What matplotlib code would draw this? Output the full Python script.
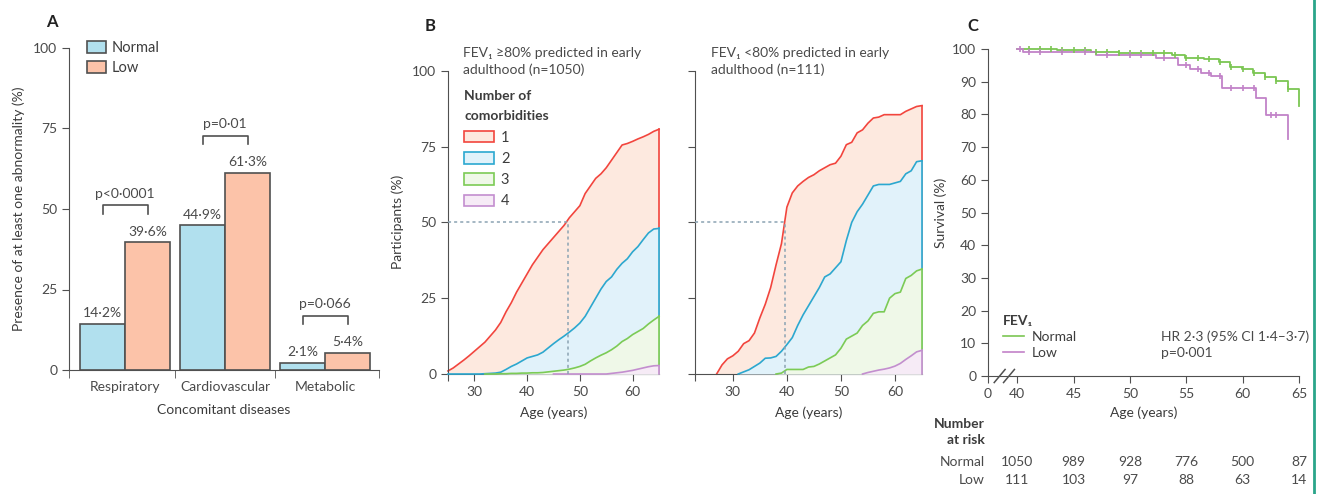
import numpy as np
import matplotlib.pyplot as plt
from matplotlib.patches import Patch
from matplotlib.lines import Line2D
from matplotlib.transforms import blended_transform_factory

plt.rcParams['font.family'] = ['Lato', 'DejaVu Sans']
plt.rcParams['font.size'] = 10
plt.rcParams['text.color'] = '#3c3c3c'
plt.rcParams['axes.edgecolor'] = '#505050'
plt.rcParams['axes.labelcolor'] = '#3c3c3c'
plt.rcParams['xtick.color'] = '#505050'
plt.rcParams['ytick.color'] = '#505050'
plt.rcParams['xtick.labelcolor'] = '#4a4a4a'
plt.rcParams['ytick.labelcolor'] = '#4a4a4a'
plt.rcParams['xtick.major.size'] = 5
plt.rcParams['ytick.major.size'] = 5

# ---- A: concomitant diseases by FEV1 group ----
diseases = ['Respiratory', 'Cardiovascular', 'Metabolic']
normal_pct = [14.2, 44.9, 2.1]
low_pct = [39.6, 61.3, 5.4]
p_text = ['p<0·0001', 'p=0·01', 'p=0·066']

# ---- B: cumulative comorbidities by age ----
ages_b1 = np.arange(25, 66)
b1_one = [1, 2, 3.3, 4.6, 6, 7.5, 9, 10.5, 12.5, 14.5, 17, 20.5, 23.5, 27, 30,
          33, 36, 38.5, 41, 43, 45, 47, 49, 51.5, 53.5, 55.5, 59.5, 62, 64.5, 66,
          68, 70.5, 73, 75.5, 76, 76.7, 77.5, 78.2, 79, 80, 80.7]
b1_two = [0, 0, 0, 0, 0, 0, 0, 0.1, 0.2, 0.3, 0.6, 1.5, 2.5, 3.3, 4.3, 5.3, 5.8,
          6.3, 7.2, 8.6, 10, 11.3, 12.5, 13.8, 15.2, 16.8, 19, 22, 25, 28, 30.5,
          32, 34.5, 36.5, 38, 40.3, 42, 44.3, 46.5, 47.8, 48]
b1_three = [np.nan] * 7 + [0, 0, 0, 0.1, 0.1, 0.2, 0.2, 0.3, 0.3, 0.4, 0.4,
            0.5, 0.7, 0.9, 1.1, 1.3, 1.6, 2.0, 2.5, 3.2, 4.3, 5.3, 6.2, 7.0,
            8.0, 9.2, 10.7, 11.7, 13, 14, 15, 16.5, 17.8, 19]
b1_four = [np.nan] * 20 + [0] * 11 + [0.2, 0.4, 0.6, 0.9, 1.2, 1.6, 2.0, 2.4,
                                      2.7, 2.8]
b1_median = 47.7

ages_b2 = np.arange(27, 66)
b2_one = [0, 3, 5, 6, 7.5, 10, 11, 13.5, 18.5, 23, 28.5, 36, 43, 55, 59.7, 62,
          63.5, 64.8, 65.7, 67, 68, 69, 69.5, 71.8, 75.6, 76.4, 79.5, 80.5,
          82.7, 84.4, 84.7, 85.5, 85.5, 85.5, 85.5, 86.6, 87.4, 88.2, 88.5]
b2_two = [np.nan] * 4 + [0, 0.7, 1.4, 2.5, 3.6, 5.2, 5.3, 5.8, 7.5, 9.7, 12, 16,
                         19.5, 22.5, 25.5, 28.5, 32, 33, 35, 37, 44, 50, 53.5,
                         56, 59, 62, 62.5, 62.5, 62.5, 63, 63.5, 66, 67, 70, 70.3]
b2_three = [np.nan] * 11 + [0, 0.3, 1.5, 1.5, 1.5, 1.5, 2.3, 2.5, 3.3, 4.3, 5.3,
                            6.3, 8.5, 11.5, 12.5, 13.5, 16, 17.5, 20, 20.5, 20.5,
                            25, 26.5, 27, 31.5, 32.5, 34, 34.6]
b2_four = [np.nan] * 27 + [0, 0.5, 0.9, 1.3, 1.6, 2, 2.6, 3.5, 4.8, 6.0, 7.3,
                           7.8]
b2_median = 39.7

n_labels = ['1', '2', '3', '4']
line_cols = ['#f2453d', '#2ba8d0', '#7ccb55', '#c38ecf']
fill_cols = ['#fde9df', '#e1f2fa', '#eff8e8', '#f6ebf6']

# ---- C: survival by FEV1 group ----
normal_t = [40, 43.5, 46.5, 49, 53.7, 54.9, 56.6, 57.9, 58.9, 59.9, 60.9, 62.0,
            63.0, 64.0, 65.0]
normal_s = [100, 99.6, 99.2, 98.9, 98.2, 97.4, 96.9, 95.9, 94.4, 93.8, 92.8,
            91.5, 90.2, 87.7, 82.6]
low_t = [40, 40.5, 47, 52.3, 54.3, 55.3, 56.3, 57.2, 58.2, 61.2, 62.1, 64.0]
low_s = [100, 99.2, 98.1, 97.1, 95.0, 94.0, 92.8, 91.8, 88.0, 85.0, 79.8, 72.5]
normal_cens = list(range(41, 65))
low_cens = [40.2, 41, 42, 44, 46, 48, 50, 51, 53, 55, 56, 57, 58, 59, 60, 61,
            62.5, 63]
risk_ages = [40, 45, 50, 55, 60, 65]
risk_normal = [1050, 989, 928, 776, 500, 87]
risk_low = [111, 103, 97, 88, 63, 14]

c_normal = '#7bc653'
c_low = '#c282c8'
bar_edge = '#505050'

fig = plt.figure(figsize=(13.22, 4.94), dpi=100)
W, H = 1322, 494


def px_axes(x0, x1, y_top, y_bot):
    return fig.add_axes([x0 / W, 1 - y_bot / H, (x1 - x0) / W, (y_bot - y_top) / H])


def clean(ax):
    ax.spines['top'].set_visible(False)
    ax.spines['right'].set_visible(False)


# panel A
axA = px_axes(69, 379, 48, 370)
clean(axA)
x = np.arange(len(diseases))
bw = 0.45
axA.bar(x - bw / 2, normal_pct, bw, color='#b1e0ee', edgecolor=bar_edge, lw=1.2,
        label='Normal')
axA.bar(x + bw / 2, low_pct, bw, color='#fcc3a9', edgecolor=bar_edge, lw=1.2,
        label='Low')
for i in range(len(diseases)):
    axA.text(x[i] - bw / 2, normal_pct[i] + 1.5, f'{normal_pct[i]:.1f}%'.replace('.', '·'),
             ha='center', va='bottom', color='#4a4a4a')
    axA.text(x[i] + bw / 2, low_pct[i] + 1.5, f'{low_pct[i]:.1f}%'.replace('.', '·'),
             ha='center', va='bottom', color='#4a4a4a')
    top = max(normal_pct[i], low_pct[i]) + 11.5
    axA.plot([x[i] - bw / 2, x[i] - bw / 2, x[i] + bw / 2, x[i] + bw / 2],
             [top - 2.6, top, top, top - 2.6], color='#505050', lw=1.2)
    axA.text(x[i], top + 1.6, p_text[i], ha='center', va='bottom', color='#4a4a4a')
axA.set_xlim(-0.56, 2.54)
axA.set_ylim(0, 100)
axA.set_yticks([0, 25, 50, 75, 100])
axA.set_xticks(x)
axA.set_xticklabels(diseases)
axA.tick_params(axis='x', length=0, pad=8)
axA.set_xticks([-0.56, 0.5, 1.5, 2.54], minor=True)
axA.tick_params(axis='x', which='minor', length=6, direction='out')
axA.set_xlabel('Concomitant diseases', labelpad=8)
axA.set_ylabel('Presence of at least one abnormality (%)', labelpad=6)
axA.legend(loc='upper left', bbox_to_anchor=(0.04, 1.04), frameon=False,
           handlelength=1.3, handleheight=0.9, labelspacing=0.4, borderaxespad=0,
           handletextpad=0.4, fontsize=10.5)


# panel B
def comorbidity_panel(ax, ages, curves, median, title, xlim):
    clean(ax)
    for k, vals in enumerate(curves):
        vals = np.array(vals, dtype=float)
        ok = ~np.isnan(vals)
        ax.fill_between(ages[ok], 0, vals[ok], color=fill_cols[k], lw=0, zorder=2 + k)
        ax.plot(ages[ok], vals[ok], color=line_cols[k], lw=1.2, zorder=2.5 + k,
                clip_on=False)
        ax.plot([ages[-1], ages[-1]], [0, vals[-1]], color=line_cols[k], lw=1.2,
                zorder=2.5 + k, clip_on=False)
    ax.plot([xlim[0], median], [50, 50], ls=(0, (2, 2)), color='#8ba3b3', lw=1.1,
            zorder=8)
    ax.plot([median, median], [0, 50], ls=(0, (2, 2)), color='#8ba3b3', lw=1.1,
            zorder=8)
    ax.set_xlim(*xlim)
    ax.set_ylim(0, 100)
    ax.set_yticks([0, 25, 50, 75, 100])
    ax.set_xticks([xlim[0], 30, 40, 50, 60])
    ax.set_xticklabels(['', '30', '40', '50', '60'])
    ax.set_xlabel('Age (years)', labelpad=6)
    ax.text(0.07, 1.078, title, transform=ax.transAxes, ha='left', va='top',
            linespacing=1.45, color='#4a4a4a')


axB1 = px_axes(448, 659, 70.7, 374)
comorbidity_panel(axB1, ages_b1, [b1_one, b1_two, b1_three, b1_four], b1_median,
                  'FEV₁ ≥80% predicted in early\nadulthood (n=1050)', (25, 65))
axB1.set_ylabel('Participants (%)', labelpad=6)
handles = [Patch(facecolor=fill_cols[k], edgecolor=line_cols[k], lw=1.2)
           for k in range(4)]
legB = axB1.legend(handles, n_labels, title='Number of\ncomorbidities',
                   loc='upper left', bbox_to_anchor=(0.05, 0.955), frameon=False,
                   handlelength=2.0, handleheight=0.85, labelspacing=0.5,
                   borderaxespad=0, handletextpad=0.5, fontsize=10.5,
                   title_fontsize=10)
legB.get_title().set_fontweight('bold')
legB.get_title().set_linespacing(1.8)
legB._legend_box.align = 'left'
legB._legend_box.sep = 6

axB2 = px_axes(695, 922, 70.7, 374)
comorbidity_panel(axB2, ages_b2, [b2_one, b2_two, b2_three, b2_four], b2_median,
                  'FEV₁ <80% predicted in early\nadulthood (n=111)', (23, 65))
axB2.set_yticklabels([])

# panel C
axC = px_axes(988, 1299, 49, 376)
clean(axC)


def km_at(t, s, when):
    idx = np.searchsorted(t, when, side='right') - 1
    return np.array(s)[idx]


axC.step(normal_t, normal_s, where='post', color=c_normal, lw=1.3, clip_on=False)
axC.step(low_t, low_s, where='post', color=c_low, lw=1.3, clip_on=False)
axC.plot(normal_cens, km_at(normal_t, normal_s, normal_cens), ls='none',
         marker='|', ms=4, mew=1.2, color=c_normal, clip_on=False)
axC.plot(low_cens, km_at(low_t, low_s, low_cens), ls='none', marker='|', ms=4,
         mew=1.2, color=c_low, clip_on=False)
axC.set_xlim(37.4, 65)
axC.set_ylim(0, 100)
axC.set_yticks(np.arange(0, 101, 10))
axC.set_xticks([37.4] + risk_ages)
axC.set_xticklabels(['0'] + [str(a) for a in risk_ages])
axC.set_xlabel('Age (years)', labelpad=5)
axC.set_ylabel('Survival (%)', labelpad=4)

# axis break marks
for dx in (0.02, 0.05):
    axC.plot([dx, dx + 0.035], [-0.02, 0.02], transform=axC.transAxes,
             color='#505050', lw=1.1, clip_on=False)

legC = axC.legend([Line2D([], [], color=c_normal, lw=1.2),
                   Line2D([], [], color=c_low, lw=1.2)], ['Normal', 'Low'],
                  title='FEV₁', loc='upper left', bbox_to_anchor=(0.03, 0.205),
                  frameon=False, handlelength=1.5, labelspacing=0.3,
                  borderaxespad=0, handletextpad=0.6, fontsize=10)
legC.get_title().set_fontweight('bold')
legC._legend_box.align = 'left'
axC.text(0.556, 0.14, 'HR 2·3 (95% CI 1·4–3·7)\np=0·001', transform=axC.transAxes,
         ha='left', va='top', linespacing=1.4, color='#4a4a4a')

# number at risk table
tr = blended_transform_factory(axC.transData, fig.transFigure)
fig.text(985 / W, 1 - 432 / H, 'Number\nat risk', ha='right', va='center',
         fontweight='bold', linespacing=1.45)
fig.text(985 / W, 1 - 462 / H, 'Normal', ha='right', va='center', color='#4a4a4a')
fig.text(985 / W, 1 - 480 / H, 'Low', ha='right', va='center', color='#4a4a4a')
for a, nn, nl in zip(risk_ages, risk_normal, risk_low):
    axC.text(a, 1 - 462 / H, str(nn), transform=tr, ha='center', va='center',
             color='#4a4a4a')
    axC.text(a, 1 - 480 / H, str(nl), transform=tr, ha='center', va='center',
             color='#4a4a4a')

# panel letters
for lab, px, py in [('A', 52, 22), ('B', 430, 26), ('C', 973, 26)]:
    fig.text(px / W, 1 - py / H, lab, ha='center', va='center', fontsize=12,
             fontweight='bold', color='#222222')

fig.add_artist(Line2D([1314 / W, 1314 / W], [0, 1], color='#2aa58a', lw=2))

fig.savefig('out.png', dpi=100)
